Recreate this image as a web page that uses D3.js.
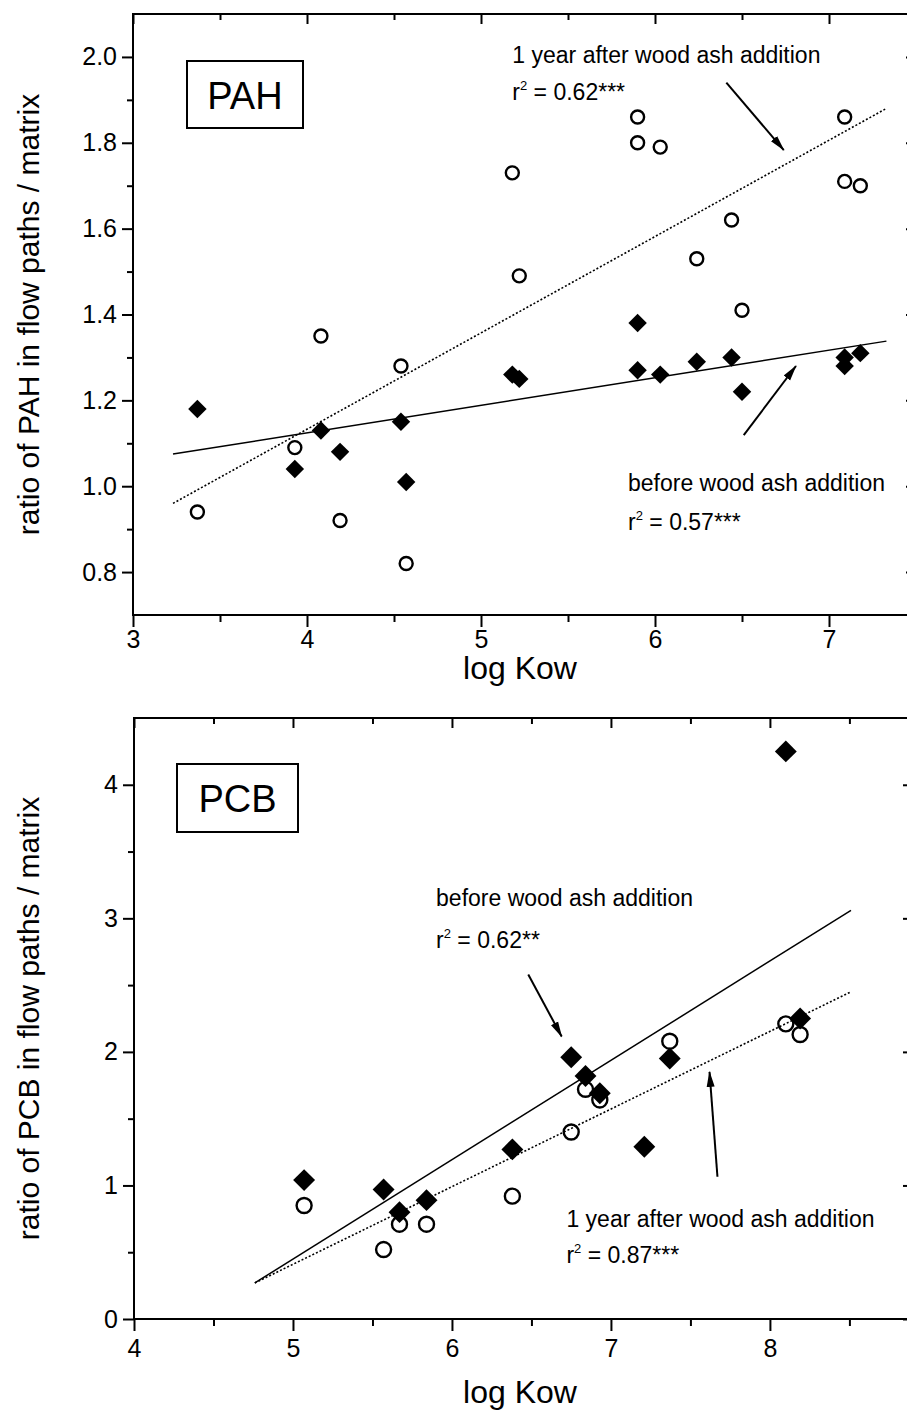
<!DOCTYPE html>
<html>
<head>
<meta charset="utf-8">
<script src="https://cdn.jsdelivr.net/npm/d3@7"></script>
<style>
  body { margin: 0; background: #fff; }
  svg { display: block; }
  text { font-family: "Liberation Sans", Arial, Helvetica, sans-serif; fill: #000; }
</style>
</head>
<body>
<svg id="fig" width="907" height="1414"></svg>
<script>
// ---------- PAH panel data ----------
const pahLogKow   = [3.37, 3.93, 4.08, 4.19, 4.54, 4.57, 5.18, 5.22, 5.90, 5.90, 6.03, 6.24, 6.44, 6.50, 7.09, 7.09, 7.18];
const pahBefore   = [1.18, 1.04, 1.13, 1.08, 1.15, 1.01, 1.26, 1.25, 1.38, 1.27, 1.26, 1.29, 1.30, 1.22, 1.30, 1.28, 1.31];
const pahAfter    = [0.94, 1.09, 1.35, 0.92, 1.28, 0.82, 1.73, 1.49, 1.86, 1.80, 1.79, 1.53, 1.62, 1.41, 1.86, 1.71, 1.70];
const pahFitX      = [3.23, 7.33];
const pahFitBefore = [1.075, 1.338];
const pahFitAfter  = [0.96, 1.88];
const pahXTicks = [3, 4, 5, 6, 7];
const pahXMinor = [3.5, 4.5, 5.5, 6.5];
const pahYTicks = [0.8, 1.0, 1.2, 1.4, 1.6, 1.8, 2.0];
const pahYMinor = [0.9, 1.1, 1.3, 1.5, 1.7, 1.9];

// ---------- PCB panel data ----------
const pcbLogKow   = [5.07, 5.57, 5.67, 5.84, 6.38, 6.75, 6.84, 6.93, 7.21, 7.37, 8.10, 8.19];
const pcbBefore   = [1.04, 0.97, 0.80, 0.89, 1.27, 1.96, 1.82, 1.69, 1.29, 1.95, 4.25, 2.25];
const pcbAfter    = [0.85, 0.52, 0.71, 0.71, 0.92, 1.40, 1.72, 1.64, null, 2.08, 2.21, 2.13];
const pcbFitX      = [4.76, 8.51];
const pcbFitBefore = [0.27, 3.06];
const pcbFitAfter  = [0.27, 2.45];
const pcbXTicks = [4, 5, 6, 7, 8];
const pcbXMinor = [4.5, 5.5, 6.5, 7.5, 8.5];
const pcbYTicks = [0, 1, 2, 3, 4];
const pcbYMinor = [0.5, 1.5, 2.5, 3.5];

const svg = d3.select("#fig");

// arrowhead shared by all annotation arrows
svg.append("defs").append("marker")
  .attr("id", "arrowhead")
  .attr("markerUnits", "userSpaceOnUse")
  .attr("markerWidth", 16).attr("markerHeight", 10)
  .attr("refX", 15).attr("refY", 5)
  .attr("orient", "auto")
  .append("path").attr("d", "M0,1 L16,5 L0,9 Z").attr("fill", "#000");

function drawPanel(p) {
  const g = svg.append("g");
  const x = d3.scaleLinear().domain(p.xDomain).range([p.left, p.right]);
  const y = d3.scaleLinear().domain(p.yDomain).range([p.bottom, p.top]);

  const styleAxis = sel => {
    sel.select(".domain").remove();
    sel.attr("font-size", null).attr("font-family", null);
    sel.selectAll(".tick line").attr("stroke", "#000").attr("stroke-width", 2);
    sel.selectAll(".tick text").attr("font-size", 25).attr("fill", "#000");
  };

  // bottom axis (outward ticks, labelled)
  g.append("g").attr("transform", `translate(0,${p.bottom})`)
    .call(d3.axisBottom(x).tickValues(p.xTicks).tickSize(12).tickPadding(p.xPad).tickFormat(d3.format("d")))
    .call(styleAxis);
  g.append("g").attr("transform", `translate(0,${p.bottom})`)
    .call(d3.axisBottom(x).tickValues(p.xMinor).tickSize(7).tickFormat(""))
    .call(styleAxis);
  // top axis (inward ticks)
  g.append("g").attr("transform", `translate(0,${p.top})`)
    .call(d3.axisTop(x).tickValues(p.xTicks).tickSize(-10).tickFormat(""))
    .call(styleAxis);
  g.append("g").attr("transform", `translate(0,${p.top})`)
    .call(d3.axisTop(x).tickValues(p.xMinor).tickSize(-6).tickFormat(""))
    .call(styleAxis);
  // left axis (outward ticks, labelled)
  g.append("g").attr("transform", `translate(${p.left},0)`)
    .call(d3.axisLeft(y).tickValues(p.yTicks).tickSize(11).tickPadding(5).tickFormat(p.yFormat))
    .call(styleAxis);
  g.append("g").attr("transform", `translate(${p.left},0)`)
    .call(d3.axisLeft(y).tickValues(p.yMinor).tickSize(6).tickFormat(""))
    .call(styleAxis);
  // right axis (inward ticks)
  g.append("g").attr("transform", `translate(${p.right},0)`)
    .call(d3.axisRight(y).tickValues(p.yTicks).tickSize(-10).tickFormat(""))
    .call(styleAxis);
  g.append("g").attr("transform", `translate(${p.right},0)`)
    .call(d3.axisRight(y).tickValues(p.yMinor).tickSize(-6).tickFormat(""))
    .call(styleAxis);

  // frame
  g.append("rect")
    .attr("x", p.left).attr("y", p.top)
    .attr("width", p.right - p.left).attr("height", p.bottom - p.top)
    .attr("fill", "none").attr("stroke", "#000").attr("stroke-width", 2);

  // axis titles
  g.append("text")
    .attr("x", 520).attr("y", p.bottom + p.titleOffset)
    .attr("text-anchor", "middle").attr("font-size", 32)
    .text("log Kow");
  g.append("text")
    .attr("transform", `translate(39,${(p.top + p.bottom) / 2}) rotate(-90)`)
    .attr("text-anchor", "middle").attr("font-size", 30)
    .text(p.yTitle);

  // compound label box
  const bx = g.append("g");
  bx.append("rect")
    .attr("x", p.left + p.box[0]).attr("y", p.top + p.box[1])
    .attr("width", p.box[2]).attr("height", p.box[3])
    .attr("fill", "#fff").attr("stroke", "#000").attr("stroke-width", 2);
  bx.append("text")
    .attr("x", p.left + p.box[0] + p.box[2] / 2).attr("y", p.top + p.box[1] + p.box[3] / 2 + 14)
    .attr("text-anchor", "middle").attr("font-size", 38)
    .text(p.label);

  // regression lines
  const line = d3.line().x(d => x(d[0])).y(d => y(d[1]));
  g.append("path")
    .datum(p.fitX.map((v, i) => [v, p.fitBefore[i]]))
    .attr("d", line).attr("fill", "none").attr("stroke", "#000").attr("stroke-width", 1.5);
  g.append("path")
    .datum(p.fitX.map((v, i) => [v, p.fitAfter[i]]))
    .attr("d", line).attr("fill", "none").attr("stroke", "#000").attr("stroke-width", 1.6)
    .attr("stroke-dasharray", "2,2");

  // before wood ash: filled diamonds
  const diamond = d3.symbol().type(d3.symbolSquare).size(p.diamondSize);
  g.append("g").selectAll("path")
    .data(p.xs.map((v, i) => [v, p.before[i]]).filter(d => d[1] != null))
    .join("path")
    .attr("d", diamond)
    .attr("transform", d => `translate(${x(d[0])},${y(d[1])}) rotate(45)`)
    .attr("fill", "#000");

  // one year after: open circles
  g.append("g").selectAll("circle")
    .data(p.xs.map((v, i) => [v, p.after[i]]).filter(d => d[1] != null))
    .join("circle")
    .attr("cx", d => x(d[0])).attr("cy", d => y(d[1]))
    .attr("r", p.circleR)
    .attr("fill", "none").attr("stroke", "#000").attr("stroke-width", 2.4);

  // annotations
  p.notes.forEach(n => {
    const t = g.append("text").attr("x", x(n.x)).attr("y", y(n.y)).attr("font-size", 23);
    if (n.r2) {
      t.append("tspan").text("r");
      t.append("tspan").attr("font-size", 13).attr("dy", -10).text("2");
      t.append("tspan").attr("dy", 10).text(" = " + n.r2);
    } else {
      t.text(n.text);
    }
  });
  p.arrows.forEach(a => {
    g.append("line")
      .attr("x1", x(a[0])).attr("y1", y(a[1]))
      .attr("x2", x(a[2])).attr("y2", y(a[3]))
      .attr("stroke", "#000").attr("stroke-width", 2)
      .attr("marker-end", "url(#arrowhead)");
  });
}

drawPanel({
  left: 133, right: 916, top: 14, bottom: 615,
  xDomain: [3, 7.5], yDomain: [0.7, 2.1],
  xTicks: pahXTicks, xMinor: pahXMinor, yTicks: pahYTicks, yMinor: pahYMinor,
  xPad: 3, titleOffset: 64,
  yFormat: d3.format(".1f"),
  yTitle: "ratio of PAH in flow paths / matrix",
  label: "PAH", box: [54, 47, 116, 67],
  xs: pahLogKow, before: pahBefore, after: pahAfter,
  fitX: pahFitX, fitBefore: pahFitBefore, fitAfter: pahFitAfter,
  diamondSize: 170, circleR: 6.5,
  notes: [
    { x: 5.18, y: 1.986, text: "1 year after wood ash addition" },
    { x: 5.18, y: 1.90, r2: "0.62***" },
    { x: 5.845, y: 0.99, text: "before wood ash addition" },
    { x: 5.845, y: 0.897, r2: "0.57***" }
  ],
  arrows: [
    [6.41, 1.94, 6.74, 1.783],
    [6.51, 1.119, 6.81, 1.28]
  ]
});

drawPanel({
  left: 134, right: 913, top: 718, bottom: 1319,
  xDomain: [4, 8.9], yDomain: [0, 4.5],
  xTicks: pcbXTicks, xMinor: pcbXMinor, yTicks: pcbYTicks, yMinor: pcbYMinor,
  xPad: 8, titleOffset: 84,
  yFormat: d3.format("d"),
  yTitle: "ratio of PCB in flow paths / matrix",
  label: "PCB", box: [43, 46, 121, 68],
  xs: pcbLogKow, before: pcbBefore, after: pcbAfter,
  fitX: pcbFitX, fitBefore: pcbFitBefore, fitAfter: pcbFitAfter,
  diamondSize: 240, circleR: 7.5,
  notes: [
    { x: 5.90, y: 3.09, text: "before wood ash addition" },
    { x: 5.90, y: 2.78, r2: "0.62**" },
    { x: 6.72, y: 0.69, text: "1 year after wood ash addition" },
    { x: 6.72, y: 0.42, r2: "0.87***" }
  ],
  arrows: [
    [6.48, 2.58, 6.69, 2.115],
    [7.67, 1.065, 7.62, 1.85]
  ]
});
</script>
</body>
</html>
